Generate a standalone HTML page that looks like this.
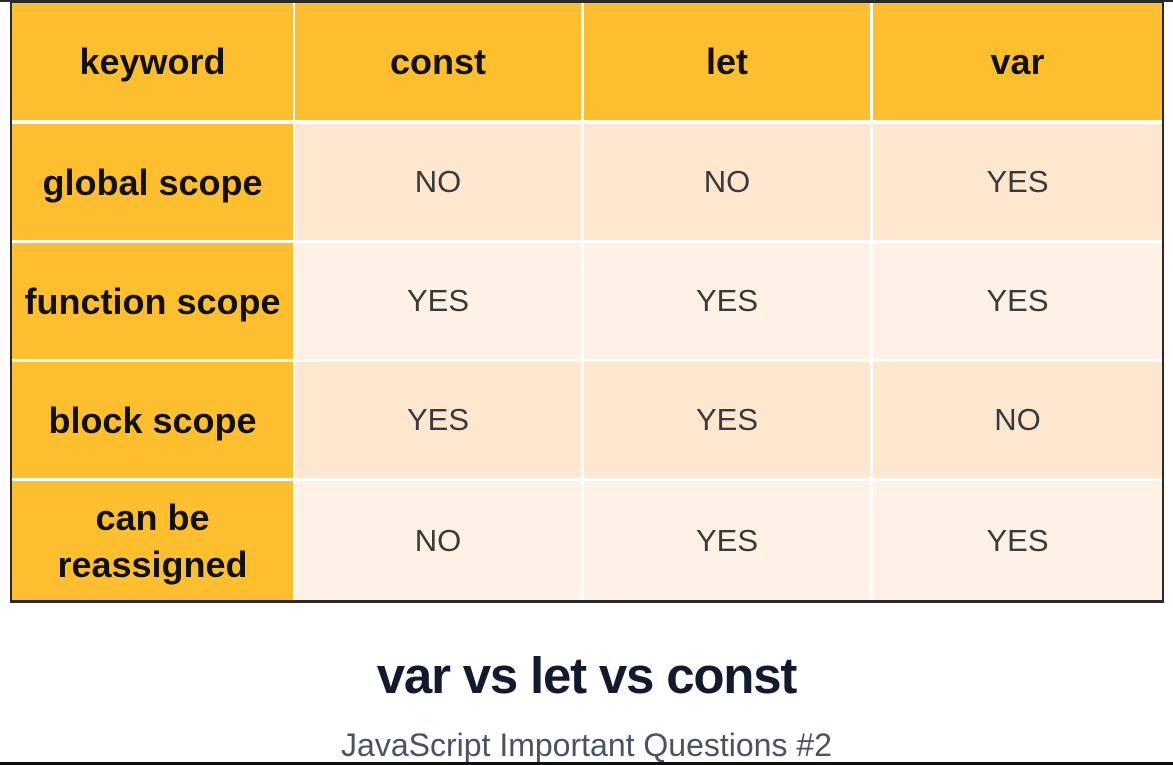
<!DOCTYPE html>
<html><head><meta charset="utf-8"><style>
body{margin:0;width:1173px;height:765px;background:#fff;position:relative;overflow:hidden;font-family:"Liberation Sans",sans-serif}
.c{position:absolute;display:flex;align-items:center;justify-content:center;text-align:center;box-sizing:border-box}
.h{background:#FDBF2D;font-weight:bold;font-size:36px;color:#111;line-height:47px}
.o{background:#FDE8CF;font-size:31px;color:#3a3a3a}
.e{background:#FEF2E6;font-size:31px;color:#3a3a3a}
</style></head><body>
<div style="position:absolute;left:10px;top:0;width:1154px;height:603px;background:#2a2a2a"></div>
<div style="position:absolute;left:12px;top:3px;width:1150px;height:597px;background:#fff"></div>
<div style="position:absolute;left:0;top:0;width:1173px;height:2px;background:#2a2a2a"></div>
<div id="t"></div>
<script>
var cols=[[12,281],[295,286],[584,286],[873,289]];
var rows=[[3,117],[124,116],[243,116],[362,116],[481,119]];
var data=[["keyword","const","let","var"],["global scope","NO","NO","YES"],["function scope","YES","YES","YES"],["block scope","YES","YES","NO"],["can be<br>reassigned","NO","YES","YES"]];
var h="";
for(var r=0;r<5;r++)for(var c=0;c<4;c++){
var cls=(r==0||c==0)?"h":(r%2?"o":"e");
h+='<div class="c '+cls+'" style="left:'+cols[c][0]+'px;top:'+rows[r][0]+'px;width:'+cols[c][1]+'px;height:'+rows[r][1]+'px">'+data[r][c]+'</div>';}
document.getElementById("t").outerHTML=h;
</script>
<div style="position:absolute;left:0;width:1173px;top:646px;text-align:center;font-size:51px;font-weight:bold;color:#141a2e;letter-spacing:-1.2px">var vs let vs const</div>
<div style="position:absolute;left:0;width:1173px;top:727px;text-align:center;font-size:32px;color:#4a5266">JavaScript Important Questions #2</div>
<div style="position:absolute;left:0;top:762px;width:1173px;height:3px;background:#111"></div>
</body></html>
